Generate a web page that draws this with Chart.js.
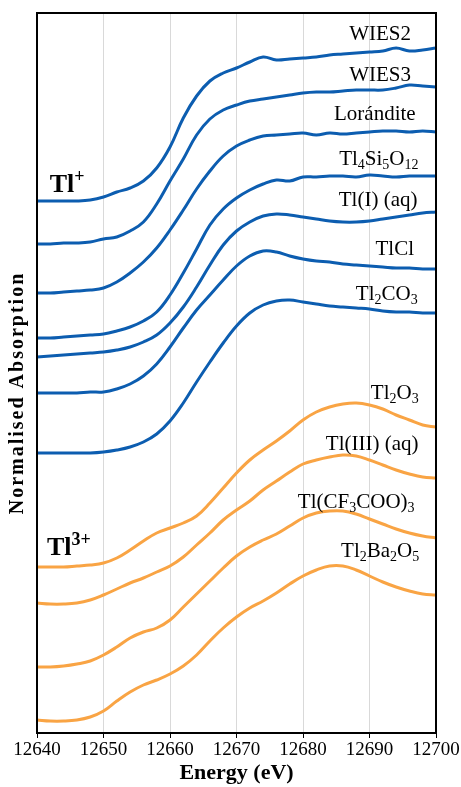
<!DOCTYPE html>
<html>
<head>
<meta charset="utf-8">
<script src="https://cdn.jsdelivr.net/npm/chart.js@4.4.0/dist/chart.umd.min.js"></script>
<style>
html, body { margin: 0; padding: 0; background: #fff; }
#wrap { width: 461px; height: 787px; }
</style>
</head>
<body>
<div id="wrap"><canvas id="xanesChart"></canvas></div>
<script>
// energy grid (eV) shared by every spectrum
const energies = [12640, 12642, 12644, 12646, 12648, 12650, 12652, 12654, 12656, 12658,
                  12660, 12662, 12664, 12666, 12668, 12670, 12672, 12674, 12676, 12678,
                  12680, 12682, 12684, 12686, 12688, 12690, 12692, 12694, 12696, 12698, 12700];
const xTicks = [12640, 12650, 12660, 12670, 12680, 12690, 12700];

// Tl+ references (stacked, normalised absorption + offset)
const wies2      = [5.32,5.32,5.32,5.32,5.33,5.36,5.41,5.45,5.52,5.65,5.86,6.15,6.37,6.52,6.60,6.65,6.71,6.76,6.73,6.74,6.75,6.76,6.78,6.79,6.80,6.81,6.82,6.85,6.82,6.83,6.85];
const wies3      = [4.89,4.89,4.90,4.90,4.91,4.94,4.96,5.02,5.11,5.29,5.52,5.74,5.98,6.14,6.23,6.28,6.32,6.34,6.36,6.38,6.40,6.41,6.41,6.42,6.43,6.43,6.43,6.45,6.48,6.47,6.46];
const lorandite  = [4.40,4.40,4.41,4.42,4.43,4.45,4.51,4.60,4.71,4.85,5.03,5.23,5.44,5.62,5.77,5.87,5.93,5.97,5.98,5.99,6.00,5.98,6.00,5.99,6.00,6.01,6.02,6.02,6.01,6.02,6.01];
const tl4si5o12  = [3.95,3.95,3.96,3.97,3.98,3.99,4.02,4.06,4.12,4.21,4.38,4.60,4.84,5.08,5.24,5.35,5.43,5.49,5.53,5.52,5.56,5.56,5.57,5.57,5.56,5.58,5.57,5.56,5.57,5.57,5.57];
const tlIaq      = [3.76,3.77,3.78,3.79,3.80,3.81,3.83,3.86,3.91,3.98,4.10,4.26,4.46,4.68,4.88,5.02,5.11,5.17,5.19,5.18,5.16,5.14,5.12,5.11,5.11,5.12,5.14,5.16,5.18,5.20,5.21];
const tlcl       = [3.40,3.40,3.40,3.40,3.41,3.41,3.44,3.49,3.57,3.69,3.86,4.05,4.23,4.38,4.53,4.67,4.77,4.82,4.81,4.77,4.74,4.72,4.71,4.69,4.68,4.67,4.66,4.65,4.65,4.64,4.64];
const tl2co3     = [2.80,2.80,2.80,2.80,2.80,2.81,2.83,2.86,2.91,2.99,3.12,3.30,3.51,3.71,3.90,4.07,4.20,4.28,4.32,4.33,4.31,4.29,4.27,4.26,4.25,4.24,4.22,4.21,4.21,4.20,4.20];

// Tl3+ references
const tl2o3      = [1.66,1.66,1.66,1.67,1.68,1.70,1.75,1.83,1.92,2.00,2.05,2.10,2.17,2.30,2.45,2.60,2.73,2.83,2.92,3.02,3.13,3.21,3.26,3.29,3.30,3.28,3.24,3.18,3.13,3.08,3.06];
const tlIIIaq    = [1.30,1.29,1.29,1.30,1.33,1.38,1.44,1.50,1.55,1.61,1.67,1.76,1.88,2.00,2.13,2.23,2.32,2.43,2.52,2.61,2.69,2.73,2.76,2.78,2.77,2.73,2.68,2.63,2.59,2.56,2.55];
const tlcf3coo3  = [0.66,0.66,0.67,0.69,0.72,0.78,0.86,0.95,1.01,1.05,1.13,1.26,1.39,1.52,1.65,1.77,1.86,1.93,1.99,2.07,2.15,2.20,2.22,2.22,2.19,2.14,2.09,2.04,2.00,1.97,1.95];
const tl2ba2o5   = [0.13,0.12,0.12,0.13,0.16,0.22,0.32,0.41,0.48,0.53,0.59,0.67,0.78,0.92,1.05,1.16,1.25,1.32,1.40,1.49,1.57,1.63,1.67,1.67,1.63,1.57,1.51,1.46,1.42,1.39,1.38];

const seriesNames = ['WIES2', 'WIES3', 'Lorándite', 'Tl_{4}Si_{5}O_{12}', 'Tl(I) (aq)', 'TlCl', 'Tl_{2}CO_{3}',
                     'Tl_{2}O_{3}', 'Tl(III) (aq)', 'Tl(CF_{3}COO)_{3}', 'Tl_{2}Ba_{2}O_{5}'];
const seriesData = [wies2, wies3, lorandite, tl4si5o12, tlIaq, tlcl, tl2co3, tl2o3, tlIIIaq, tlcf3coo3, tl2ba2o5];
// label anchors: [energy, offset absorption] for each series name
const labelX = [12691.6, 12691.6, 12690.8, 12691.4, 12691.3, 12693.8, 12692.6, 12693.8, 12690.4, 12688.0, 12691.6];
const labelY = [7.00, 6.59, 6.20, 5.75, 5.34, 4.85, 4.40, 3.41, 2.90, 2.32, 1.83];

const BLUE = '#0c5db0';
const ORANGE = '#f9a444';
const SERIF = '"Liberation Serif", "Times New Roman", serif';

function parseRich(text) {
    const parts = [];
    const re = /([_^])\{([^}]*)\}|([^_^]+)/g;
    let m;
    while ((m = re.exec(text))) {
        if (m[3]) parts.push({ t: m[3], k: 0 });
        else parts.push({ t: m[2], k: m[1] === '_' ? 1 : 2 });
    }
    return parts;
}

function drawRich(ctx, text, x, y, size, bold, align) {
    const parts = parseRich(text);
    const w = bold ? 'bold ' : '';
    const small = Math.round(size * 0.68);
    let total = 0;
    parts.forEach(p => {
        ctx.font = w + (p.k ? small : size) + 'px ' + SERIF;
        p.w = ctx.measureText(p.t).width;
        total += p.w;
    });
    let cx = align === 'left' ? x : x - total / 2;
    const base = y + size * 0.33;
    ctx.textAlign = 'left';
    ctx.textBaseline = 'alphabetic';
    ctx.fillStyle = '#000';
    parts.forEach(p => {
        ctx.font = w + (p.k ? small : size) + 'px ' + SERIF;
        let dy = 0;
        if (p.k === 1) dy = size * 0.2;
        if (p.k === 2) dy = -size * 0.36;
        ctx.fillText(p.t, cx, base + dy);
        cx += p.w;
    });
}

const annotations = {
    id: 'annotations',
    afterDatasetsDraw(chart) {
        const ctx = chart.ctx;
        const xs = chart.scales.x, ys = chart.scales.y;
        const area = chart.chartArea;
        ctx.save();
        seriesNames.forEach((name, i) => {
            drawRich(ctx, name, xs.getPixelForValue(labelX[i]), ys.getPixelForValue(labelY[i]), 21, false, 'center');
        });
        drawRich(ctx, 'Tl^{+}', xs.getPixelForValue(12641.9), ys.getPixelForValue(5.50), 26, true, 'left');
        drawRich(ctx, 'Tl^{3+}', xs.getPixelForValue(12641.5), ys.getPixelForValue(1.87), 26, true, 'left');

        // frame
        ctx.strokeStyle = '#000';
        ctx.lineWidth = 2;
        ctx.strokeRect(area.left, area.top, area.right - area.left, area.bottom - area.top);

        // y title
        ctx.translate(18, 393);
        ctx.rotate(-Math.PI / 2);
        ctx.font = 'bold 20px ' + SERIF;
        ctx.letterSpacing = '2px';
        ctx.textAlign = 'center';
        ctx.textBaseline = 'middle';
        ctx.fillText('Normalised Absorption', 0, 0);
        ctx.restore();
    }
};

const datasets = seriesData.map((vals, i) => ({
    label: seriesNames[i],
    data: energies.map((e, j) => ({ x: e, y: vals[j] })),
    borderColor: i < 7 ? BLUE : ORANGE,
    borderWidth: 3,
    pointRadius: 0,
    tension: 0.4,
    fill: false
}));

new Chart(document.getElementById('xanesChart'), {
    type: 'line',
    data: { datasets: datasets },
    options: {
        responsive: true,
        maintainAspectRatio: false,
        animation: false,
        devicePixelRatio: 1,
        layout: { padding: { left: 37, right: 25, top: 13, bottom: 0 } },
        plugins: {
            legend: { display: false },
            tooltip: { enabled: false }
        },
        scales: {
            x: {
                type: 'linear',
                min: 12640,
                max: 12700,
                afterBuildTicks: scale => { scale.ticks = xTicks.map(v => ({ value: v })); },
                afterFit: scale => { scale.height = 54; },
                ticks: {
                    color: '#000',
                    font: { family: SERIF, size: 19 },
                    padding: 1,
                    maxRotation: 0,
                    autoSkip: false,
                    callback: v => String(v)
                },
                grid: {
                    color: '#d9d9d9',
                    lineWidth: 1,
                    drawTicks: true,
                    tickLength: 5,
                    tickColor: '#000'
                },
                border: { display: false },
                title: {
                    display: true,
                    text: 'Energy (eV)',
                    color: '#000',
                    font: { family: SERIF, size: 22, weight: 'bold' },
                    padding: { top: 0, bottom: 0 }
                }
            },
            y: {
                display: false,
                min: 0,
                max: 7.2
            }
        }
    },
    plugins: [annotations]
});
</script>
</body>
</html>
